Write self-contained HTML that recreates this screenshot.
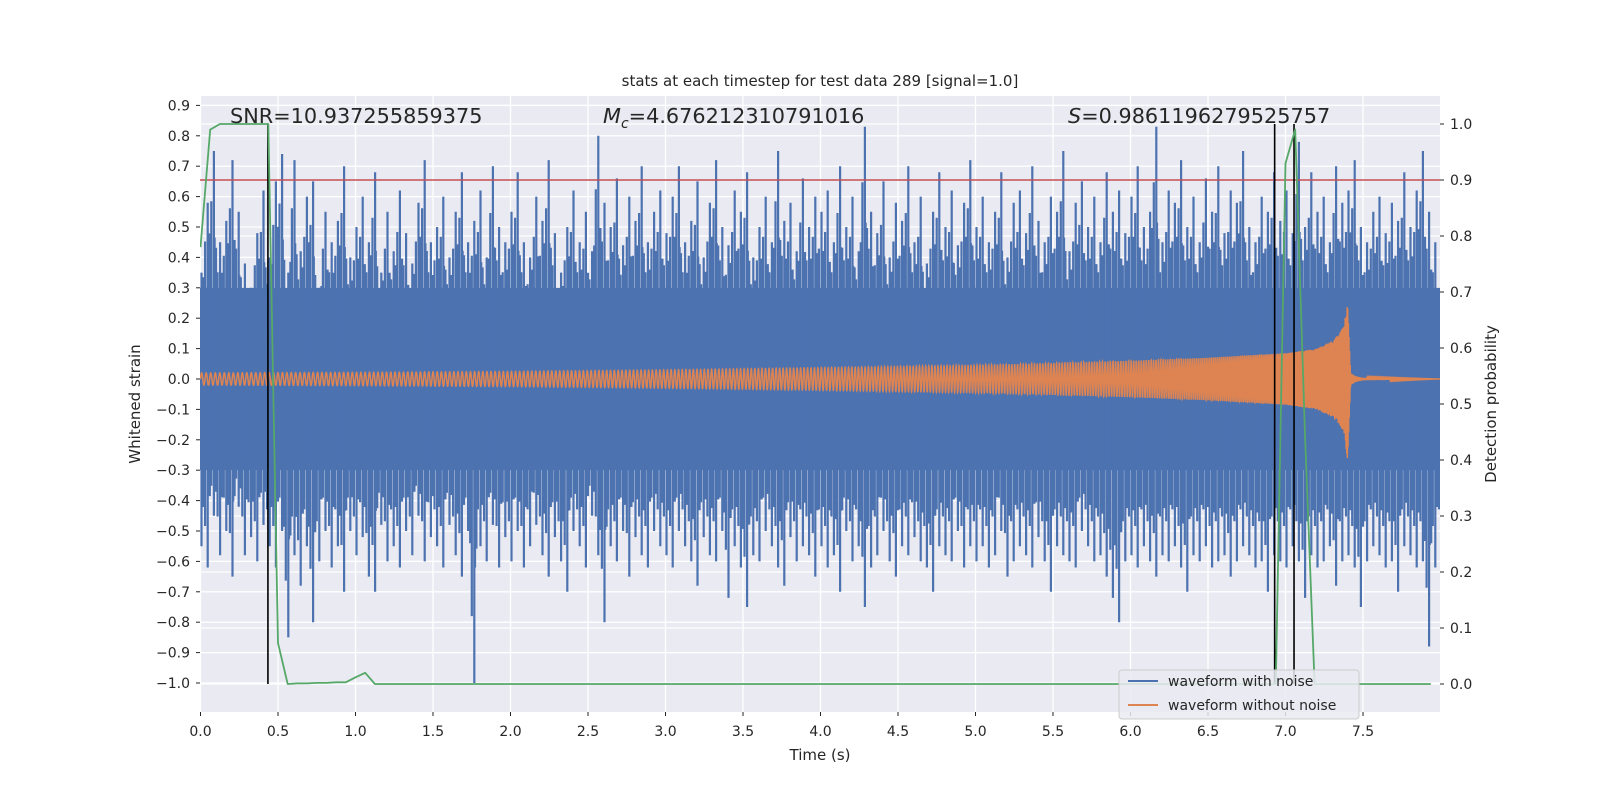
<!DOCTYPE html>
<html><head><meta charset="utf-8"><style>
html,body{margin:0;padding:0;background:#fff;}
svg{display:block;font-family:"DejaVu Sans","Liberation Sans",sans-serif;}
</style></head><body>
<svg id="chart" width="1600" height="800" viewBox="0 0 1600 800">
<defs><clipPath id="pc"><rect x="200" y="96" width="1240" height="616"/></clipPath></defs>
<rect x="200" y="96" width="1240" height="616" fill="#EAEAF2"/>
<g id="grid"></g>
<g id="series" clip-path="url(#pc)"></g>
<g id="axes"></g>
<text x="820" y="86" text-anchor="middle" font-size="15" fill="#262626">stats at each timestep for test data 289 [signal=1.0]</text>
<text x="230" y="123" font-size="20.8" fill="#262626">SNR=10.937255859375</text>
<text x="603" y="123" font-size="20.8" fill="#262626"><tspan font-style="italic">M</tspan><tspan font-size="14" dy="5" font-style="italic">c</tspan><tspan dy="-5">=4.676212310791016</tspan></text>
<text x="1068" y="123" font-size="20.8" fill="#262626"><tspan font-style="italic">S</tspan>=0.9861196279525757</text>
<text x="820" y="760" text-anchor="middle" font-size="15" fill="#262626">Time (s)</text>
<text transform="translate(140,404) rotate(-90)" text-anchor="middle" font-size="15" fill="#262626">Whitened strain</text>
<text transform="translate(1496,404) rotate(-90)" text-anchor="middle" font-size="15" fill="#262626">Detection probability</text>
<g>
<rect x="1119" y="670" width="240" height="49" rx="3" fill="#EAEAF2" fill-opacity="0.85" stroke="#cccccc"/>
<line x1="1128" y1="681" x2="1158" y2="681" stroke="#4C72B0" stroke-width="2"/>
<text x="1168" y="686" font-size="14" fill="#262626">waveform with noise</text>
<line x1="1128" y1="705" x2="1158" y2="705" stroke="#DD8452" stroke-width="2"/>
<text x="1168" y="710" font-size="14" fill="#262626">waveform without noise</text>
</g>
</svg>
<script>
const xTicks=[0,0.5,1,1.5,2,2.5,3,3.5,4,4.5,5,5.5,6,6.5,7,7.5];
const yTicks=[0.9,0.8,0.7,0.6,0.5,0.4,0.3,0.2,0.1,0,-0.1,-0.2,-0.3,-0.4,-0.5,-0.6,-0.7,-0.8,-0.9,-1.0];
const y2Ticks=[0,0.1,0.2,0.3,0.4,0.5,0.6,0.7,0.8,0.9,1.0];
const binWidthSec=0.04;
const noiseMax=[0.35,0.58,0.75,0.45,0.52,0.72,0.55,0.38,0.3,0.48,0.62,0.40,0.65,0.74,0.35,0.72,0.42,0.6,0.65,0.3,0.55,0.45,0.52,0.7,0.4,
0.5,0.6,0.45,0.68,0.35,0.55,0.42,0.62,0.48,0.38,0.58,0.72,0.45,0.5,0.6,0.4,0.55,0.68,0.45,0.52,0.62,0.4,0.7,0.5,0.45,
0.55,0.68,0.45,0.4,0.6,0.52,0.72,0.48,0.35,0.5,0.62,0.45,0.55,0.42,0.8,0.58,0.5,0.66,0.44,0.6,0.52,0.7,0.45,0.55,0.62,
0.48,0.6,0.7,0.45,0.52,0.65,0.4,0.58,0.72,0.5,0.44,0.62,0.55,0.68,0.4,0.5,0.6,0.45,0.75,0.52,0.58,0.42,0.66,0.5,0.6,
0.55,0.62,0.45,0.7,0.5,0.6,0.42,0.83,0.55,0.48,0.65,0.4,0.58,0.52,0.7,0.45,0.6,0.38,0.55,0.68,0.5,0.62,0.44,0.58,0.72,
0.5,0.6,0.45,0.55,0.68,0.4,0.58,0.62,0.48,0.7,0.52,0.45,0.6,0.55,0.75,0.42,0.58,0.65,0.5,0.6,0.45,0.68,0.55,0.62,0.48,
0.6,0.7,0.5,0.55,0.83,0.45,0.62,0.58,0.72,0.5,0.6,0.45,0.66,0.55,0.7,0.48,0.62,0.58,0.75,0.5,0.45,0.6,0.55,0.68,0.52,
0.62,0.48,0.78,0.5,0.68,0.55,0.6,0.45,0.7,0.58,0.62,0.72,0.5,0.45,0.55,0.6,0.48,0.58,0.52,0.68,0.5,0.62,0.75,0.55,0.45];
const noiseMin=[-0.55,-0.62,-0.45,-0.58,-0.5,-0.65,-0.42,-0.58,-0.52,-0.6,-0.48,-0.55,-0.62,-0.5,-0.85,-0.58,-0.68,-0.55,-0.8,-0.6,-0.5,-0.62,-0.55,-0.7,-0.5,
-0.58,-0.52,-0.65,-0.7,-0.48,-0.6,-0.55,-0.62,-0.5,-0.58,-0.45,-0.6,-0.52,-0.55,-0.62,-0.48,-0.58,-0.65,-0.5,-1.0,-0.55,-0.6,-0.48,-0.62,-0.52,
-0.6,-0.5,-0.62,-0.55,-0.48,-0.58,-0.65,-0.52,-0.6,-0.7,-0.5,-0.55,-0.62,-0.45,-0.58,-0.8,-0.55,-0.6,-0.5,-0.65,-0.52,-0.58,-0.62,-0.5,-0.55,
-0.58,-0.62,-0.5,-0.55,-0.6,-0.68,-0.52,-0.58,-0.6,-0.5,-0.72,-0.55,-0.62,-0.75,-0.58,-0.6,-0.5,-0.55,-0.62,-0.68,-0.52,-0.6,-0.55,-0.58,-0.65,
-0.55,-0.62,-0.58,-0.7,-0.5,-0.6,-0.55,-0.75,-0.62,-0.58,-0.5,-0.6,-0.65,-0.55,-0.58,-0.52,-0.6,-0.62,-0.7,-0.55,-0.58,-0.6,-0.5,-0.62,-0.55,
-0.6,-0.55,-0.62,-0.58,-0.5,-0.65,-0.6,-0.55,-0.58,-0.62,-0.52,-0.6,-0.7,-0.55,-0.58,-0.6,-0.62,-0.5,-0.55,-0.6,-0.58,-0.65,-0.72,-0.8,-0.6,
-0.58,-0.62,-0.55,-0.6,-0.65,-0.58,-0.6,-0.55,-0.62,-0.7,-0.58,-0.6,-0.55,-0.62,-0.6,-0.58,-0.65,-0.6,-0.55,-0.58,-0.62,-0.6,-0.7,-0.58,-0.6,
-0.62,-0.55,-0.6,-0.72,-0.58,-0.62,-0.6,-0.55,-0.68,-0.6,-0.58,-0.62,-0.75,-0.6,-0.55,-0.58,-0.62,-0.6,-0.7,-0.55,-0.58,-0.62,-0.6,-0.88,-0.62];
const noiseCore=0.3;
const envTimes=[0,1,2,3,4,5,5.5,6,6.5,7,7.2,7.3,7.35,7.38,7.40,7.42,7.45,7.5,8];
const envAmps=[0.02,0.022,0.025,0.03,0.037,0.045,0.052,0.06,0.07,0.085,0.1,0.125,0.15,0.18,0.27,0.02,0.01,0.004,0.0];
const freqTimes=[0,2,4,6,7,7.3,7.4,8];
const freqHz=[34,38,45,60,90,150,250,250];
const probStep=0.0625;
const probValues=[0.78,0.99,1,1,1,1,1,1,0.073,0,0.001,0.001,0.002,0.002,0.003,0.003,0.012,0.02,0];
const probLate={111:0,112:0.93,113:0.99,114:0.45,115:0};
const probCount=128;
const threshold=0.9;
const markerTimes=[0.435,6.93,7.055];

const NS='http://www.w3.org/2000/svg';
const X=t=>200.5+t*155;
const YL=v=>379-v*304;
const YR=p=>684-p*560;
function mk(tag,attrs,parent){const e=document.createElementNS(NS,tag);for(const k in attrs)e.setAttribute(k,attrs[k]);parent.appendChild(e);return e;}
function interp(xs,ys,x){if(x<=xs[0])return ys[0];for(let i=1;i<xs.length;i++){if(x<=xs[i]){const f=(x-xs[i-1])/(xs[i]-xs[i-1]);return ys[i-1]+f*(ys[i]-ys[i-1]);}}return ys[ys.length-1];}
const grid=document.getElementById('grid'),series=document.getElementById('series'),axes=document.getElementById('axes');

xTicks.forEach(t=>{
  const g=mk('line',{x1:X(t),x2:X(t),y1:96,y2:712,stroke:'#fff','stroke-width':1.3},grid);
  
  
  const tk=mk('line',{x1:X(t),x2:X(t),y1:712,y2:716,stroke:'#262626','stroke-width':1},axes);
  
  
  const l=mk('text',{x:X(t),y:736,'text-anchor':'middle','font-size':14,fill:'#262626'},axes);
  l.textContent=t.toFixed(1);
  
  
});
yTicks.forEach(v=>{
  const g=mk('line',{x1:200,x2:1440,y1:YL(v),y2:YL(v),stroke:'#fff','stroke-width':1.3},grid);
  
  
  const tk=mk('line',{x1:196,x2:200,y1:YL(v),y2:YL(v),stroke:'#262626','stroke-width':1},axes);
  
  
  const l=mk('text',{x:190,y:YL(v)+5,'text-anchor':'end','font-size':14,fill:'#262626'},axes);
  l.textContent=(v<0?'\u2212':'')+Math.abs(v).toFixed(1);
  
  
});
y2Ticks.forEach(p=>{
  const g=mk('line',{x1:200,x2:1440,y1:YR(p),y2:YR(p),stroke:'#fff','stroke-width':1.3},grid);
  
  
  const tk=mk('line',{x1:1440,x2:1444,y1:YR(p),y2:YR(p),stroke:'#262626','stroke-width':1},axes);
  
  
  const l=mk('text',{x:1450,y:YR(p)+5,'font-size':14,fill:'#262626'},axes);
  l.textContent=p.toFixed(1);
  
  
});

// noisy waveform
const core=mk('rect',{x:200,y:YL(noiseCore),width:1240,height:YL(-noiseCore)-YL(noiseCore),fill:'#4C72B0'},series);


let d='';
noiseMax.forEach((mx,i)=>{
  const x0=X(i*binWidthSec), w=X(binWidthSec)-X(0);
  const mn=noiseMin[i];
  const nx=noiseMax[(i+1)%noiseMax.length], nn=noiseMin[(i+1)%noiseMin.length];
  d+=`M${(x0+1).toFixed(1)} ${YL(mx).toFixed(1)}V${YL(mn).toFixed(1)}`;
  d+=`M${(x0+w*0.5).toFixed(1)} ${YL((mx+nx)*0.36).toFixed(1)}V${YL((mn+nn)*0.36).toFixed(1)}`;
  d+=`M${(x0+w*0.28).toFixed(1)} ${YL(mx*0.62).toFixed(1)}V${YL(mn*0.62).toFixed(1)}`;
  d+=`M${(x0+w*0.75).toFixed(1)} ${YL(nx*0.78).toFixed(1)}V${YL(nn*0.78).toFixed(1)}`;
});
const noise=mk('path',{d:d,stroke:'#4C72B0','stroke-width':2.2,fill:'none'},series);



// clean chirp
let ph=0,pts=[];const dt=0.0008;
for(let t=0;t<=8;t+=dt){
  const a=interp(envTimes,envAmps,t);
  pts.push(X(t).toFixed(2)+','+YL(a*Math.sin(ph)).toFixed(2));
  ph+=2*Math.PI*interp(freqTimes,freqHz,t)*dt;
}
const clean=mk('polyline',{points:pts.join(' '),stroke:'#DD8452','stroke-width':1.5,fill:'none'},series);



// threshold
const th=mk('line',{x1:200,x2:1440,y1:YR(threshold),y2:YR(threshold),stroke:'#C44E52','stroke-width':1.5},series);



markerTimes.forEach(t=>{
  const m=mk('line',{x1:X(t),x2:X(t),y1:YR(1),y2:YR(0),stroke:'#000','stroke-width':1.6},series);
  
  
});

// detection probability
const pp=[];
for(let k=0;k<probCount;k++){
  let v=k<probValues.length?probValues[k]:(probLate[k]!==undefined?probLate[k]:0);
  pp.push(X(k*probStep).toFixed(1)+','+YR(v).toFixed(1));
}
const prob=mk('polyline',{points:pp.join(' '),stroke:'#55A868','stroke-width':1.8,fill:'none','stroke-linejoin':'round'},series);


</script>
</body></html>
